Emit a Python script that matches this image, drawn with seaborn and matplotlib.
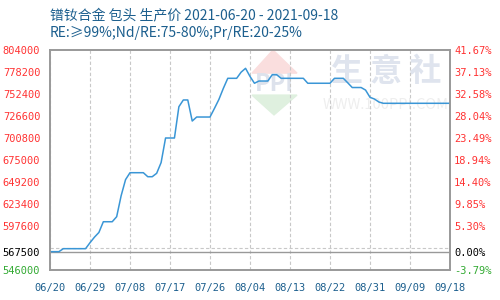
import matplotlib
matplotlib.use("Agg")
import matplotlib.pyplot as plt
import seaborn as sns
import pandas as pd
import numpy as np

# ---------------- data ----------------
start_date = "2021-06-20"
end_date = "2021-09-18"
prices = [
    567500, 567500, 567500, 571000, 571000, 571000, 571000, 571000, 571000, 578000,
    584500, 590000, 602600, 602600, 602600, 608500, 633000, 652000, 660100, 660100,
    660100, 660100, 655400, 655400, 659400, 672000, 700800, 700800, 700800, 737500,
    745400, 745400, 720700, 725400, 725400, 725400, 725400, 735500, 746000, 759000,
    770800, 770800, 770800, 778000, 782500, 773000, 765000, 767600, 767600, 767600,
    775000, 775000, 770800, 770800, 770800, 770800, 770800, 770800, 765000, 765000,
    765000, 765000, 765000, 765000, 770800, 770800, 770800, 765500, 760000, 760000,
    760000, 757000, 748500, 746500, 743000, 741500, 741500, 741500, 741500, 741500,
    741500, 741500, 741500, 741500, 741500, 741500, 741500, 741500, 741500, 741500,
    741500,
]
x_tick_labels = ["06/20", "06/29", "07/08", "07/17", "07/26", "08/04",
                 "08/13", "08/22", "08/31", "09/09", "09/18"]
base_price = 567500
y_min, y_max = 546000, 804000
grid_values = [571800, 597600, 623400, 649200, 675000, 700800, 726600, 752400, 778200]
left_tick_values = [546000, 567500, 597600, 623400, 649200, 675000, 700800,
                    726600, 752400, 778200, 804000]
left_tick_labels = ["546000", "567500", "597600", "623400", "649200", "675000",
                    "700800", "726600", "752400", "778200", "804000"]
right_tick_labels = ["-3.79%", "0.00%", "5.30%", "9.85%", "14.40%", "18.94%",
                     "23.49%", "28.04%", "32.58%", "37.13%", "41.67%"]
title_line1 = "镨钕合金 包头 生产价 2021-06-20 - 2021-09-18"
title_line2 = "RE:≥99%;Nd/RE:75-80%;Pr/RE:20-25%"

# ---------------- frame ----------------
dates = pd.date_range(start_date, end_date, freq="D")
df = pd.DataFrame({"date": dates, "price": prices})
df["day"] = (df["date"] - df["date"].iloc[0]).dt.days
x_tick_pos = [(pd.Timestamp("2021/" + s) - dates[0]).days for s in x_tick_labels]

sns.set_theme(style="white")
plt.rcParams["font.family"] = ["Noto Sans CJK SC", "DejaVu Sans"]

fig = plt.figure(figsize=(5, 3), dpi=100)
ax = fig.add_axes([0.1, 0.1, 0.8, 1 - 50 / 300 - 0.1])

# watermark (decoration)
ax.fill([0.505, 0.5575, 0.6175], [0.895, 1.0, 0.895], transform=ax.transAxes,
        color="#fadede", zorder=0, clip_on=False)
ax.fill([0.505, 0.56, 0.6175], [0.795, 0.705, 0.795], transform=ax.transAxes,
        color="#dff0df", zorder=0)
ax.text(0.56, 0.845, "PPI", transform=ax.transAxes, ha="center", va="center",
        fontsize=17, color="#dde2ec", fontweight="bold", zorder=0)
ax.text(0.84, 0.90, "生 意 社", transform=ax.transAxes, ha="center", va="center",
        fontsize=23, color="#dfe4ee", fontweight="bold", zorder=0)
ax.text(0.84, 0.75, "WWW.100PPI.COM", transform=ax.transAxes, ha="center", va="center",
        fontsize=10.5, color="#eeeeee", zorder=0)

sns.lineplot(data=df, x="day", y="price", ax=ax, color="#3a96d6", linewidth=1.1, zorder=3)

ax.set_xlim(0, 90)
ax.set_ylim(y_min, y_max)
ax.set_xlabel("")
ax.set_ylabel("")

# grids
ax.set_xticks(x_tick_pos)
ax.set_xticklabels(x_tick_labels, family="DejaVu Sans Mono", fontsize=7.5, color="#1c5f8e")
ax.set_yticks(left_tick_values)
ax.set_yticklabels(left_tick_labels, family="DejaVu Sans Mono", fontsize=7.5)
ax.set_yticks(grid_values, minor=True)
ax.grid(False)
ax.grid(True, which="major", axis="x", linestyle=(0, (3, 2)), color="#c8c8c8", linewidth=0.8)
ax.grid(True, which="minor", axis="y", linestyle=(0, (3, 2)), color="#c8c8c8", linewidth=0.8)
ax.axhline(base_price, color="#999999", linewidth=1.0, zorder=2)
ax.tick_params(axis="both", which="both", length=0)
ax.tick_params(axis="y", pad=7)
ax.tick_params(axis="x", pad=9)

def color_for(i):
    if i == 0:
        return "#33aa33"
    if i == 1:
        return "#000000"
    return "#ff3333"

for i, lab in enumerate(ax.get_yticklabels()):
    lab.set_color(color_for(i))

for s in ax.spines.values():
    s.set_color("#999999")
    s.set_linewidth(1.2)

ax2 = ax.twinx()
ax2.set_ylim(y_min, y_max)
ax2.set_yticks(left_tick_values)
ax2.set_yticklabels(right_tick_labels, family="DejaVu Sans Mono", fontsize=7.5)
ax2.tick_params(axis="y", length=0, pad=3)
ax2.grid(False)
for i, lab in enumerate(ax2.get_yticklabels()):
    lab.set_color(color_for(i))
for s in ax2.spines.values():
    s.set_color("#999999")
    s.set_linewidth(1.2)

fig.text(0.1, 1 - 15 / 300, title_line1, ha="left", va="center", fontsize=10, color="#1c5f8e")
fig.text(0.1, 1 - 33 / 300, title_line2, ha="left", va="center", fontsize=10, color="#1c5f8e")

fig.savefig("out.png", dpi=100)
